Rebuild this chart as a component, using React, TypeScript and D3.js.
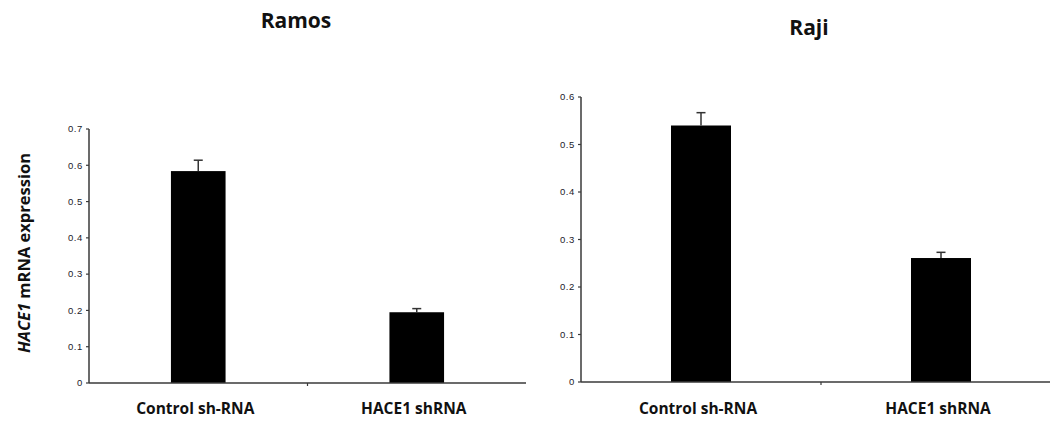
import React from "react";
import * as d3 from "d3";

const categories = ["Control sh-RNA", "HACE1 shRNA"];
const ramosValues = [0.584, 0.195];
const ramosErrors = [0.03, 0.01];
const rajiValues = [0.54, 0.261];
const rajiErrors = [0.027, 0.012];
const ramosTicks = [0, 0.1, 0.2, 0.3, 0.4, 0.5, 0.6, 0.7];
const rajiTicks = [0, 0.1, 0.2, 0.3, 0.4, 0.5, 0.6];

type PanelProps = {
  title: string;
  titleX: number;
  titleY: number;
  values: number[];
  errors: number[];
  ticks: number[];
  x0: number;
  x1: number;
  yBottom: number;
  yTop: number;
  yMax: number;
};

function Panel(p: PanelProps) {
  const x = d3.scaleBand<string>().domain(categories).range([p.x0, p.x1]).padding(0);
  const y = d3.scaleLinear().domain([0, p.yMax]).range([p.yBottom, p.yTop]);
  const bw = x.bandwidth() * 0.25;
  const axisColor = "#3a3a3a";
  return (
    <g>
      <text
        x={p.titleX}
        y={p.titleY}
        textAnchor="middle"
        fontFamily="'Open Sans', sans-serif"
        fontWeight="bold"
        fontSize={21}
        fill="#111"
      >
        {p.title}
      </text>
      {categories.map((c, i) => {
        const cx = (x(c) as number) + x.bandwidth() / 2;
        const top = y(p.values[i]);
        const et = y(p.values[i] + p.errors[i]);
        return (
          <g key={c}>
            <rect x={cx - bw / 2} y={top} width={bw} height={p.yBottom - top} fill="#000" />
            <line x1={cx} x2={cx} y1={top} y2={et} stroke="#333" strokeWidth={1.5} />
            <line x1={cx - 4.5} x2={cx + 4.5} y1={et} y2={et} stroke="#333" strokeWidth={1.5} />
            <text
              x={cx - 3}
              y={414}
              textAnchor="middle"
              fontFamily="'Open Sans', sans-serif"
              fontWeight="bold"
              fontSize={15.5}
              fill="#111"
            >
              {c}
            </text>
          </g>
        );
      })}
      <line x1={p.x0} x2={p.x0} y1={p.yTop} y2={p.yBottom} stroke={axisColor} strokeWidth={1.5} />
      <line x1={p.x0} x2={p.x1} y1={p.yBottom} y2={p.yBottom} stroke={axisColor} strokeWidth={1.5} />
      {categories.slice(1).map((c) => (
        <line
          key={c}
          x1={x(c) as number}
          x2={x(c) as number}
          y1={p.yBottom}
          y2={p.yBottom + 3}
          stroke={axisColor}
          strokeWidth={1.2}
        />
      ))}
      {p.ticks.map((t) => (
        <g key={t}>
          <line x1={p.x0 - 3} x2={p.x0} y1={y(t)} y2={y(t)} stroke={axisColor} strokeWidth={1.2} />
          <text
            x={p.x0 - 6}
            y={y(t)}
            dy="0.35em"
            textAnchor="end"
            fontFamily="Arial, 'Liberation Sans', sans-serif"
            fontSize={9.5}
            letterSpacing={0.6}
            fill="#1a1a2a"
          >
            {t === 0 ? "0" : d3.format(".1f")(t)}
          </text>
        </g>
      ))}
    </g>
  );
}

export default function App() {
  return (
    <div style={{ position: "absolute", left: 0, top: 0 }}>
      <svg width={1050} height={423} style={{ display: "block", background: "#fff" }}>
        <Panel
          title="Ramos"
          titleX={296}
          titleY={28}
          values={ramosValues}
          errors={ramosErrors}
          ticks={ramosTicks}
          x0={89}
          x1={526}
          yBottom={383}
          yTop={129}
          yMax={0.7}
        />
        <Panel
          title="Raji"
          titleX={809}
          titleY={35}
          values={rajiValues}
          errors={rajiErrors}
          ticks={rajiTicks}
          x0={581}
          x1={1061}
          yBottom={382}
          yTop={97}
          yMax={0.6}
        />
        <text
          transform="translate(30,253) rotate(-90)"
          textAnchor="middle"
          fontFamily="'Open Sans', sans-serif"
          fontWeight="bold"
          fontSize={16.5}
          fill="#111"
        >
          <tspan fontStyle="italic">HACE1</tspan>
          <tspan> mRNA expression</tspan>
        </text>
      </svg>
    </div>
  );
}
